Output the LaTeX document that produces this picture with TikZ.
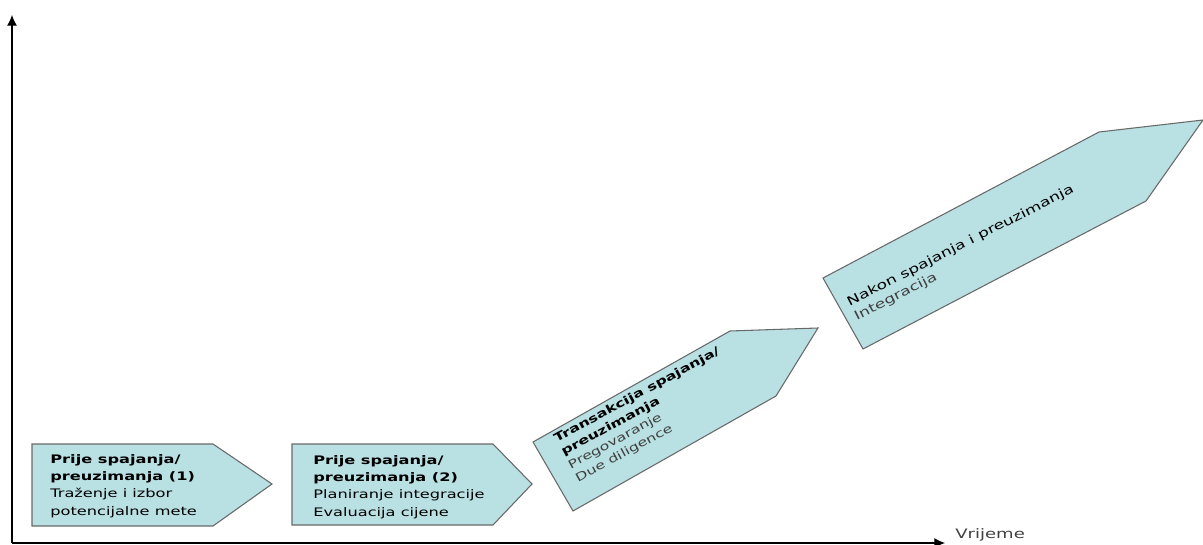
\documentclass[tikz,border=0pt]{standalone}
\usepackage{fontspec}
\setmainfont{DejaVu Sans}
\usetikzlibrary{arrows.meta}
\definecolor{phasefill}{RGB}{185,224,227}
\definecolor{phaseline}{RGB}{105,105,105}

\begin{document}
\begin{tikzpicture}[x=0.75pt, y=-0.75pt,
  phase/.style={draw=phaseline, fill=phasefill, line width=0.8pt, line join=miter},
  axis/.style={line width=0.8pt, -{Latex[length=8pt, width=7.5pt]}},
  txt/.style={xscale=1.38, transform shape, inner sep=0pt, align=left, anchor=north west,
    font=\fontsize{8.8}{13}\selectfont}]
  \useasboundingbox (0,0) rectangle (1203,545);

  \coordinate (O) at (12,543);
  \coordinate (ytop) at (12,15);
  \coordinate (xend) at (945,543);
  \draw[axis] (O) -- (ytop);
  \draw[axis] (O) -- (xend);
  \node[txt, anchor=base west, text=black!75, font=\fontsize{9.8}{12}\selectfont] (vrijeme) at (955,538) {Vrijeme};

  \draw[phase] (32,444) -- (213,444) -- (272,484) -- (213,526) -- (32,526) -- cycle;
  \draw[phase] (292,444) -- (493,444) -- (532,484) -- (493,525) -- (292,525) -- cycle;
  \draw[phase] (533,442) -- (730,331) -- (818,328) -- (776,396) -- (573,511) -- cycle;
  \draw[phase] (823,278) -- (1099,132) -- (1203,120) -- (1146,201) -- (863,349) -- cycle;

  \node[txt] (pre1) at (50,454) {\textbf{Prije spajanja/}\\\textbf{preuzimanja (1)}\\
    Traženje i izbor\\potencijalne mete};
  \node[txt] (pre2) at (313,455) {\textbf{Prije spajanja/}\\\textbf{preuzimanja (2)}\\
    Planiranje integracije\\Evaluacija cijene};
  \node[rotate=28.5, txt, font=\fontsize{8.6}{11.3}\selectfont] (trans) at (552,435)
    {\textbf{Transakcija spajanja/}\\\textbf{preuzimanja}\\
    \textcolor{black!75}{Pregovaranje}\\\textcolor{black!75}{Due diligence}};
  \node[rotate=27, txt, font=\fontsize{9.3}{12}\selectfont] (post) at (845,298)
    {Nakon spajanja i preuzimanja\\\textcolor{black!75}{Integracija}};
\end{tikzpicture}
\end{document}
